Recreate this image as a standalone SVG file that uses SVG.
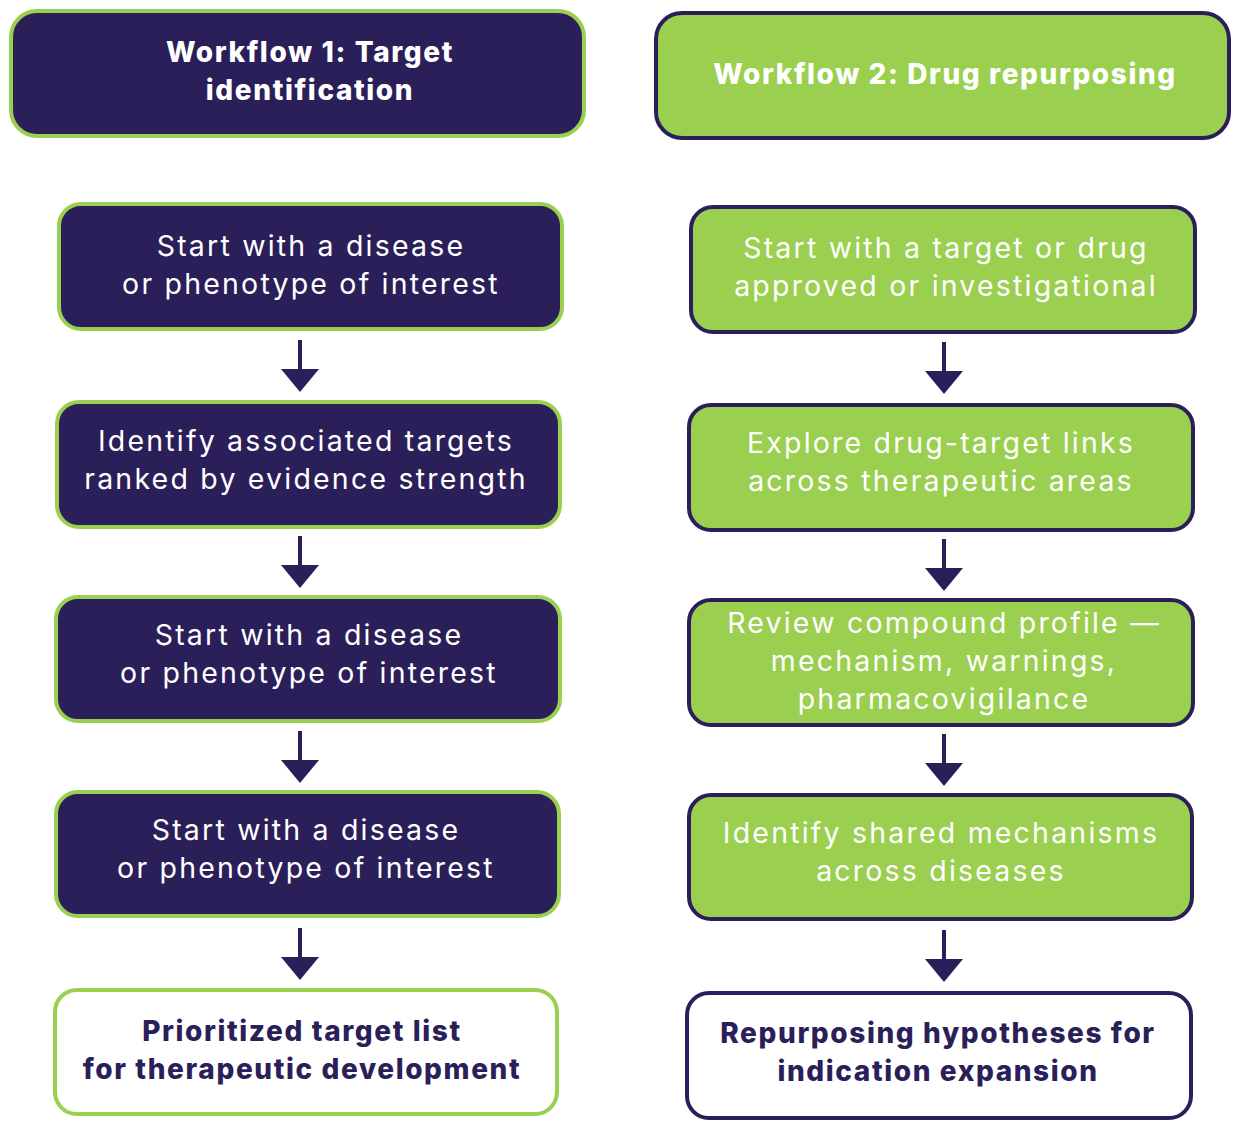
<svg xmlns="http://www.w3.org/2000/svg" width="1244" height="1128" viewBox="0 0 1244 1128">
<style>
.dk{fill:#2B1F5A;stroke:#9ACF50;stroke-width:4}
.gr{fill:#9ACF50;stroke:#2B1F5A;stroke-width:4}
.wg{fill:#FFFFFF;stroke:#9ACF50;stroke-width:4}
.wd{fill:#FFFFFF;stroke:#2B1F5A;stroke-width:4}
text{font-family:"Inter","Liberation Sans",sans-serif;text-anchor:middle}
.h{font-size:28px;font-weight:800;fill:#FFFFFF;letter-spacing:1.6px}
.b{font-size:28.5px;font-weight:400;fill:#FFFFFF;letter-spacing:2.2px}
.f{font-size:28px;font-weight:800;fill:#2B1F5A;letter-spacing:1.6px}
.c{stroke:#2B1F5A;stroke-width:4;fill:none}
.ah{fill:#2B1F5A}
</style>
<rect width="1244" height="1128" fill="#FFFFFF"/>
<g id="h1"><rect class="dk" x="11" y="11" width="573" height="125" rx="26"/><text class="h" x="310" y="62">Workflow 1: Target</text><text class="h" x="310" y="100">identification</text></g>
<g id="h2"><rect class="gr" x="656" y="13" width="573" height="125" rx="26"/><text class="h" x="945" y="84">Workflow 2: Drug repurposing</text></g>
<g id="l1"><rect class="dk" x="59" y="204" width="503" height="125" rx="22"/><text class="b" x="311" y="256">Start with a disease</text><text class="b" x="311" y="294">or phenotype of interest</text></g>
<g id="l2"><rect class="dk" x="57" y="402" width="503" height="125" rx="22"/><text class="b" x="306" y="451">Identify associated targets</text><text class="b" x="306" y="489">ranked by evidence strength</text></g>
<g id="l3"><rect class="dk" x="56" y="597" width="504" height="124" rx="22"/><text class="b" x="309" y="645">Start with a disease</text><text class="b" x="309" y="683">or phenotype of interest</text></g>
<g id="l4"><rect class="dk" x="56" y="792" width="503" height="124" rx="22"/><text class="b" x="306" y="840">Start with a disease</text><text class="b" x="306" y="878">or phenotype of interest</text></g>
<g id="l5"><rect class="wg" x="55" y="990" width="502" height="124" rx="22"/><text class="f" x="302" y="1041">Prioritized target list</text><text class="f" x="302" y="1079">for therapeutic development</text></g>
<g id="r1"><rect class="gr" x="691" y="207" width="504" height="125" rx="22"/><text class="b" x="946" y="258">Start with a target or drug</text><text class="b" x="946" y="296">approved or investigational</text></g>
<g id="r2"><rect class="gr" x="689" y="405" width="504" height="125" rx="22"/><text class="b" x="941" y="453">Explore drug-target links</text><text class="b" x="941" y="491">across therapeutic areas</text></g>
<g id="r3"><rect class="gr" x="689" y="600" width="504" height="125" rx="22"/><text class="b" x="944" y="633">Review compound profile —</text><text class="b" x="944" y="671">mechanism, warnings,</text><text class="b" x="944" y="709">pharmacovigilance</text></g>
<g id="r4"><rect class="gr" x="689" y="795" width="503" height="124" rx="22"/><text class="b" x="941" y="843">Identify shared mechanisms</text><text class="b" x="941" y="881">across diseases</text></g>
<g id="r5"><rect class="wd" x="687" y="993" width="504" height="125" rx="22"/><text class="f" x="938" y="1043">Repurposing hypotheses for</text><text class="f" x="938" y="1081">indication expansion</text></g>
<g id="connectors">
<line class="c" x1="300" y1="340" x2="300" y2="372"/><polygon class="ah" points="281,369 319,369 300,392"/>
<line class="c" x1="300" y1="536" x2="300" y2="568"/><polygon class="ah" points="281,565 319,565 300,588"/>
<line class="c" x1="300" y1="731" x2="300" y2="763"/><polygon class="ah" points="281,760 319,760 300,783"/>
<line class="c" x1="300" y1="928" x2="300" y2="960"/><polygon class="ah" points="281,957 319,957 300,980"/>
<line class="c" x1="944" y1="342" x2="944" y2="374"/><polygon class="ah" points="925,371 963,371 944,394"/>
<line class="c" x1="944" y1="539" x2="944" y2="571"/><polygon class="ah" points="925,568 963,568 944,591"/>
<line class="c" x1="944" y1="734" x2="944" y2="766"/><polygon class="ah" points="925,763 963,763 944,786"/>
<line class="c" x1="944" y1="930" x2="944" y2="962"/><polygon class="ah" points="925,959 963,959 944,982"/>
</g>
</svg>
